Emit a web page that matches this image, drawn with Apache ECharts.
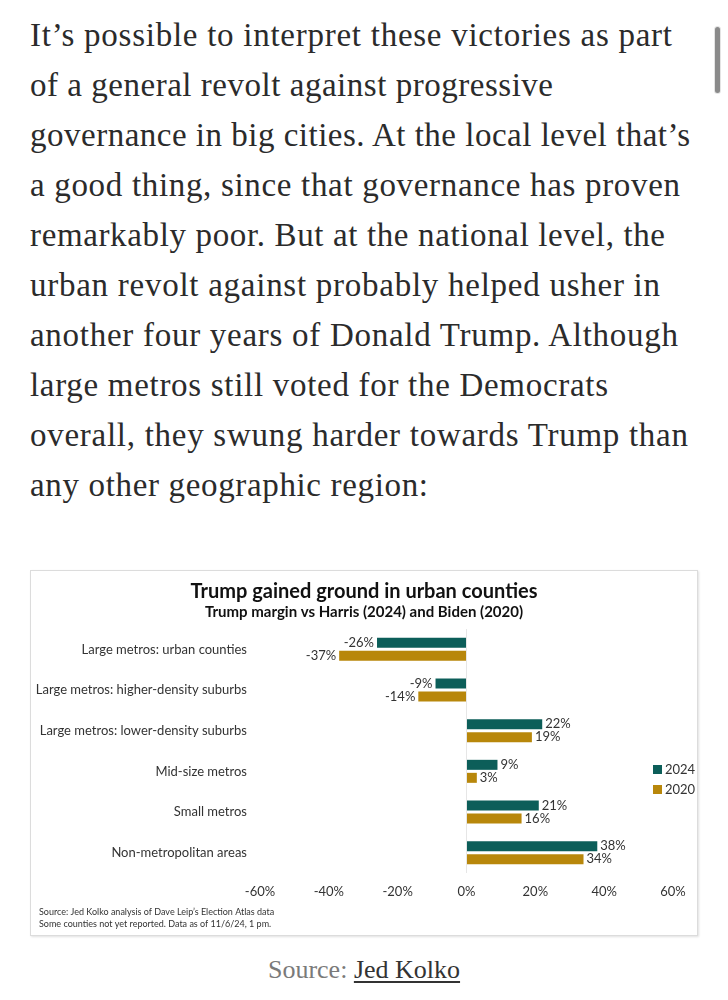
<!DOCTYPE html>
<html>
<head>
<meta charset="utf-8">
<script src="https://cdn.jsdelivr.net/npm/echarts@6/dist/echarts.min.js"></script>
<style>
  html, body { margin: 0; padding: 0; background: #ffffff; width: 728px; height: 1000px; overflow: hidden; }
  .pline { position: absolute; left: 30px; font-family: "Liberation Serif", "DejaVu Serif", serif; font-size: 33px; line-height: 50px; color: #2b2b2b; white-space: nowrap; }
  #chartbox { position: absolute; left: 30px; top: 570px; width: 666px; height: 364px; border: 1px solid #dcdcdc; box-shadow: 1px 1px 2px rgba(0,0,0,0.12); background: #fff; }
  #chart { width: 666px; height: 364px; }
  #src { position: absolute; left: 0; width: 728px; top: 955px; text-align: center; font-family: "Liberation Serif", serif; font-size: 26px; color: #7a7a7a; }
  #src a { color: #333; text-decoration: underline; text-underline-offset: 3px; }
  #scroll { position: absolute; left: 715px; top: 27px; width: 5px; height: 66px; background: #8a8a8a; border-radius: 3px; box-shadow: 0 0 0 1px #e4e4e4; }
</style>
</head>
<body>
<div id="para"></div>
<div id="chartbox"><div id="chart"></div></div>
<div id="src">Source: <a>Jed Kolko</a></div>
<div id="scroll"></div>
<script>
// ---- chart data ----
const categories = [
  'Large metros: urban counties',
  'Large metros: higher-density suburbs',
  'Large metros: lower-density suburbs',
  'Mid-size metros',
  'Small metros',
  'Non-metropolitan areas'
];
const margin2024 = [-26, -9, 22, 9, 21, 38];
const margin2020 = [-37, -14, 19, 3, 16, 34];
const seriesNames = ['2024', '2020'];
const xTicks = [-60, -40, -20, 0, 20, 40, 60];

// ---- paragraph text ----
const paraLines = [
  'It\u2019s possible to interpret these victories as part',
  'of a general revolt against progressive',
  'governance in big cities. At the local level that\u2019s',
  'a good thing, since that governance has proven',
  'remarkably poor. But at the national level, the',
  'urban revolt against probably helped usher in',
  'another four years of Donald Trump. Although',
  'large metros still voted for the Democrats',
  'overall, they swung harder towards Trump than',
  'any other geographic region:'
];
const paraRight = [672, 553, 690, 680, 665, 660, 678, 608, 688, 428];
const para = document.getElementById('para');
paraLines.forEach((t, i) => {
  const d = document.createElement('div');
  d.className = 'pline';
  d.style.top = (10 + i * 50) + 'px';
  const s = document.createElement('span');
  s.textContent = t;
  d.appendChild(s);
  para.appendChild(d);
  const w = s.getBoundingClientRect().width;
  const target = paraRight[i] - 30;
  const ls = (target - w) / (t.length - 1);
  s.style.letterSpacing = ls.toFixed(3) + 'px';
});

// ---- chart ----
const chart = echarts.init(document.getElementById('chart'), null, { renderer: 'canvas' });
const FONT = 'Lato, "Noto Sans", sans-serif';
function labelFor(v) {
  return { position: v < 0 ? 'left' : 'right' };
}
const option = {
  animation: false,
  textStyle: { fontFamily: FONT },
  title: {
    text: 'Trump gained ground in urban counties',
    subtext: 'Trump margin vs Harris (2024) and Biden (2020)',
    left: 'center',
    top: 6,
    itemGap: 3,
    textStyle: { fontFamily: FONT, fontWeight: 'bold', fontSize: 20, color: '#111' },
    subtextStyle: { fontFamily: FONT, fontWeight: 'bold', fontSize: 15, color: '#111' }
  },
  legend: {
    data: seriesNames,
    orient: 'vertical',
    left: 617,
    top: 187,
    itemWidth: 9,
    itemHeight: 9,
    itemGap: 7,
    icon: 'rect',
    textStyle: { fontFamily: FONT, fontSize: 13, color: '#333', padding: [0, 0, 0, -2] }
  },
  grid: { left: 229, right: 24, top: 58, bottom: 62, containLabel: false },
  xAxis: {
    type: 'value',
    min: -60, max: 60, interval: 20,
    axisLine: { show: false },
    axisTick: { show: false },
    splitLine: { show: false },
    axisLabel: {
      margin: 12,
      fontFamily: FONT, fontSize: 13, color: '#333',
      formatter: v => xTicks.includes(v) ? v + '%' : ''
    }
  },
  yAxis: {
    type: 'category',
    data: categories,
    inverse: true,
    axisLine: { show: false, onZero: false },
    axisTick: { show: false },
    axisLabel: { margin: 13, fontFamily: FONT, fontSize: 13, color: '#333' }
  },
  series: [
    {
      name: seriesNames[0],
      type: 'bar',
      barWidth: 10,
      barGap: '30%',
      itemStyle: { color: '#0c5e59' },
      label: { show: true, distance: 3, fontFamily: FONT, fontSize: 13, color: '#333', formatter: p => p.value + '%' },
      data: margin2024.map(v => ({ value: v, label: labelFor(v) })),
      markLine: {
        silent: true,
        symbol: 'none',
        label: { show: false },
        lineStyle: { color: '#e6e6e6', type: 'solid', width: 1 },
        data: [{ xAxis: 0 }]
      }
    },
    {
      name: seriesNames[1],
      type: 'bar',
      barWidth: 10,
      barGap: '30%',
      itemStyle: { color: '#b8870b' },
      label: { show: true, distance: 3, fontFamily: FONT, fontSize: 13, color: '#333', formatter: p => p.value + '%' },
      data: margin2020.map(v => ({ value: v, label: labelFor(v) }))
    }
  ],
  graphic: [
    { type: 'text', left: 8, top: 337, style: { text: 'Source: Jed Kolko analysis of Dave Leip\u2019s Election Atlas data', font: '9px ' + FONT, fill: '#333' } },
    { type: 'text', left: 8, top: 349, style: { text: 'Some counties not yet reported. Data as of 11/6/24, 1 pm.', font: '9px ' + FONT, fill: '#333' } }
  ]
};
chart.setOption(option);
</script>
</body>
</html>
